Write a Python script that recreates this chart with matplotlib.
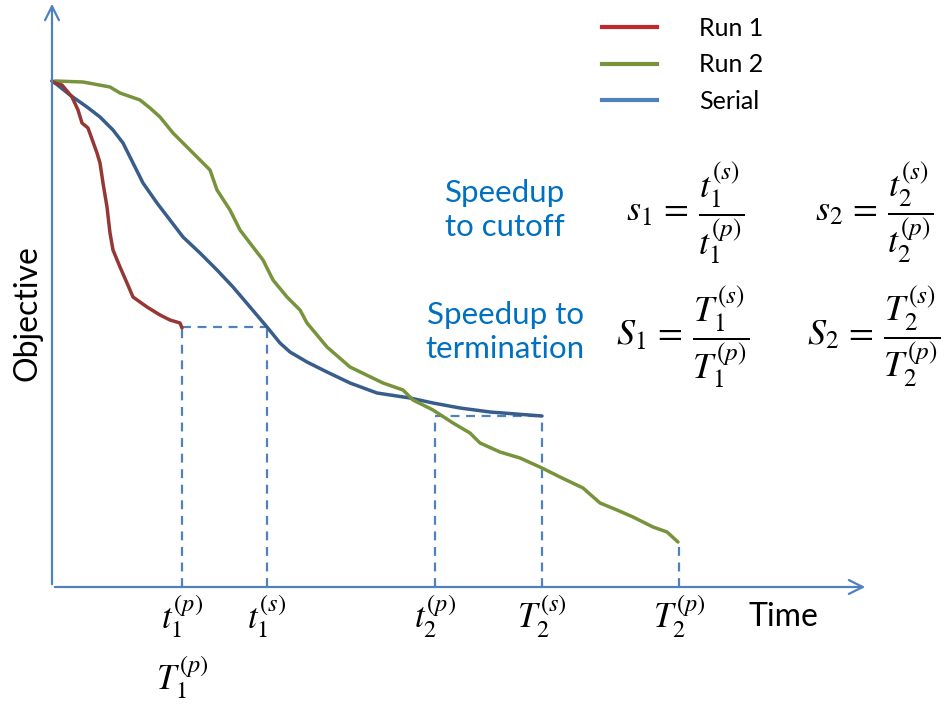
import matplotlib
matplotlib.use("Agg")
import matplotlib.pyplot as plt
from matplotlib.lines import Line2D

plt.rcParams['mathtext.fontset'] = 'stix'
plt.rcParams['font.family'] = ['Lato', 'DejaVu Sans']

# curves (time, objective) in arbitrary units
run1_t = [0, 3, 10, 20, 26, 30, 36, 45, 48, 51, 55, 58, 61, 68, 75, 81, 95, 108, 118, 128, 130]
run1_y = [506, 504, 502, 490, 477, 464, 459, 434, 424, 404, 380, 354, 337, 320, 304, 290, 280, 272, 267, 264, 259]

serial_t = [0, 3, 18, 35, 48, 61, 71, 81, 91, 105, 118, 131, 148, 165, 181, 198, 215, 228, 238, 255,
            275, 298, 325, 358, 381, 408, 438, 490]
serial_y = [506, 504, 492, 480, 470, 457, 444, 424, 404, 384, 367, 350, 334, 317, 300, 280, 260, 244, 235, 225,
            215, 204, 194, 189, 184, 179, 175, 171]

run2_t = [3, 31, 58, 68, 88, 98, 108, 121, 135, 148, 158, 165, 178, 188, 201, 211, 221, 235, 248, 255,
          275, 298, 331, 351, 361, 381, 401, 418, 428, 448, 468, 490, 508, 531, 548, 565, 581, 601, 615, 626]
run2_y = [506, 505, 500, 494, 487, 479, 470, 454, 440, 427, 417, 397, 377, 357, 340, 327, 307, 290, 277, 264,
          240, 220, 204, 197, 187, 177, 164, 154, 144, 135, 129, 119, 110, 99, 84, 77, 70, 60, 55, 45]

# marked times and levels
t1p, t1s, t2p, T2s, T2p = 130, 215, 383, 490, 627
level1, level2, level_end = 260, 171, 45

axis_c = '#4f81bd'
fig = plt.figure(figsize=(9.46, 7.13), dpi=100)
ax = fig.add_axes([0, 0, 1, 1])
ax.set_xlim(-52, 894)
ax.set_ylim(-126, 587)
ax.axis('off')

# axes arrows
ax.annotate('', xy=(0, 586), xytext=(0, 0),
            arrowprops=dict(arrowstyle='->,head_length=1.0,head_width=0.5', color=axis_c, lw=1.6))
ax.annotate('', xy=(816, 0), xytext=(0, 0),
            arrowprops=dict(arrowstyle='->,head_length=1.0,head_width=0.5', color=axis_c, lw=1.6))

# dashed guides
dk = dict(color=axis_c, lw=1.6, ls=(0, (4, 3)))
ax.plot([t1p, t1s], [level1, level1], **dk)
ax.plot([t1p, t1p], [0, level1], **dk)
ax.plot([t1s, t1s], [0, level1], **dk)
ax.plot([t2p, T2s], [level2, level2], **dk)
ax.plot([t2p, t2p], [0, level2], **dk)
ax.plot([T2s, T2s], [0, level2], **dk)
ax.plot([T2p, T2p], [0, level_end], **dk)

# curves
ax.plot(serial_t, serial_y, color='#385d8a', lw=2.5, solid_capstyle='round')
ax.plot(run2_t, run2_y, color='#77933c', lw=2.5, solid_capstyle='round')
ax.plot(run1_t, run1_y, color='#953735', lw=2.5, solid_capstyle='round')

# legend
handles = [Line2D([], [], color='#c0282b', lw=3),
           Line2D([], [], color='#77933c', lw=3),
           Line2D([], [], color='#4f81bd', lw=3)]
fig.legend(handles, ['Run 1', 'Run 2', 'Serial'], loc='upper left',
           bbox_to_anchor=(579 / 946, 1 + 6 / 713), frameon=False, fontsize=18,
           handlelength=2.2, handletextpad=1.7, labelspacing=0.55)

# axis labels
ax.text(28 - 52, 587 - 313, 'Objective', rotation=90, ha='center', va='center', fontsize=23)
ax.text(783 - 52, 587 - 617, 'Time', ha='center', va='center', fontsize=23)

mfs = 25
ax.text(t1p, -30, r'$t_1^{(p)}$', ha='center', va='center', fontsize=mfs)
ax.text(t1s, -30, r'$t_1^{(s)}$', ha='center', va='center', fontsize=mfs)
ax.text(t2p, -30, r'$t_2^{(p)}$', ha='center', va='center', fontsize=mfs)
ax.text(T2s, -30, r'$T_2^{(s)}$', ha='center', va='center', fontsize=mfs)
ax.text(T2p, -30, r'$T_2^{(p)}$', ha='center', va='center', fontsize=mfs)
ax.text(t1p, -91, r'$T_1^{(p)}$', ha='center', va='center', fontsize=mfs)

# speedup definitions
blue_t = '#0070c0'
ax.text(505 - 52, 587 - 210, 'Speedup\nto cutoff', ha='center', va='center',
        fontsize=22.5, color=blue_t, linespacing=1.25)
ax.text(505 - 52, 587 - 332, 'Speedup to\ntermination', ha='center', va='center',
        fontsize=22.5, color=blue_t, linespacing=1.25)
ffs = 26
ax.text(685 - 52, 587 - 213, r'$s_1\,=\,\dfrac{t_1^{(s)}}{t_1^{(p)}}$', ha='center', va='center', fontsize=ffs)
ax.text(874 - 52, 587 - 213, r'$s_2\,=\,\dfrac{t_2^{(s)}}{t_2^{(p)}}$', ha='center', va='center', fontsize=ffs)
ax.text(683 - 52, 587 - 337, r'$S_1\,=\,\dfrac{T_1^{(s)}}{T_1^{(p)}}$', ha='center', va='center', fontsize=ffs)
ax.text(874 - 52, 587 - 337, r'$S_2\,=\,\dfrac{T_2^{(s)}}{T_2^{(p)}}$', ha='center', va='center', fontsize=ffs)

fig.savefig('out.png', dpi=100)
